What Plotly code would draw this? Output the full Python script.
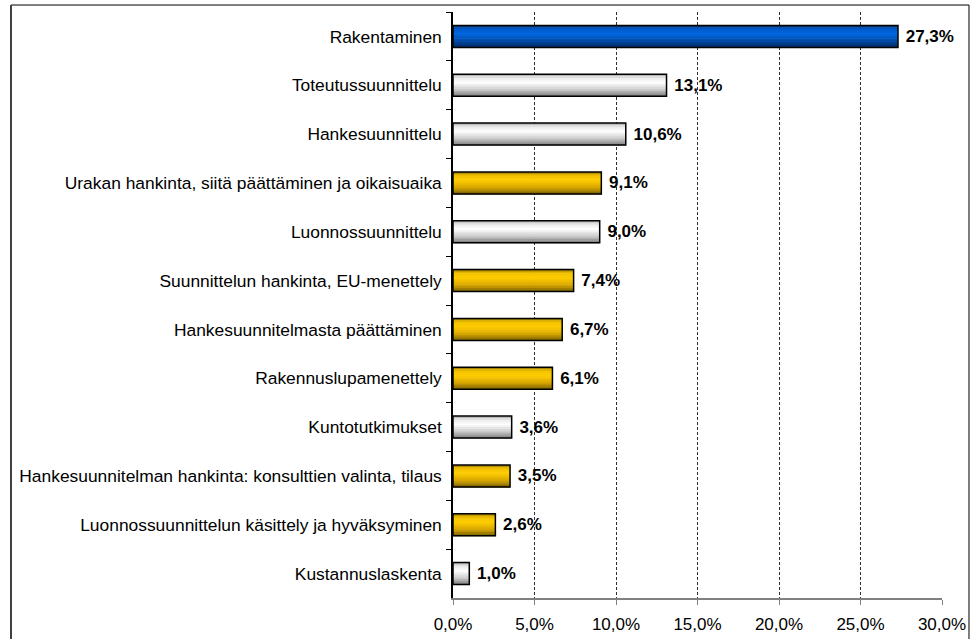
import numpy as np
import plotly.graph_objects as go

categories = [
    "Rakentaminen",
    "Toteutussuunnittelu",
    "Hankesuunnittelu",
    "Urakan hankinta, siitä päättäminen ja oikaisuaika",
    "Luonnossuunnittelu",
    "Suunnittelun hankinta, EU-menettely",
    "Hankesuunnitelmasta päättäminen",
    "Rakennuslupamenettely",
    "Kuntotutkimukset",
    "Hankesuunnitelman hankinta: konsulttien valinta, tilaus",
    "Luonnossuunnittelun käsittely ja hyväksyminen",
    "Kustannuslaskenta",
]
values = [27.3, 13.1, 10.6, 9.1, 9.0, 7.4, 6.7, 6.1, 3.6, 3.5, 2.6, 1.0]
groups = ["blue", "grey", "grey", "gold", "grey", "gold", "gold", "gold", "grey", "gold", "gold", "grey"]
x_ticks = [0, 5, 10, 15, 20, 25, 30]
x_tick_labels = ["0,0%", "5,0%", "10,0%", "15,0%", "20,0%", "25,0%", "30,0%"]

# vertical gradient profiles (top -> bottom)
profiles = {
    "blue": [(0.0, "#002a66"), (0.15, "#0058c8"), (0.38, "#0068e0"), (0.7, "#004aa8"), (1.0, "#002a60")],
    "grey": [(0.0, "#a8a8a8"), (0.15, "#e8e8e8"), (0.38, "#ffffff"), (0.7, "#cccccc"), (1.0, "#7a7a7a")],
    "gold": [(0.0, "#8a6e00"), (0.15, "#f2c200"), (0.4, "#ffcc00"), (0.72, "#d4a400"), (1.0, "#7a6000")],
}


def hex2rgb(h):
    return np.array([int(h[i:i + 2], 16) for i in (1, 3, 5)], dtype=float)


def color_at(group, t):
    stops = profiles[group]
    ts = [s[0] for s in stops]
    cs = np.array([hex2rgb(s[1]) for s in stops])
    rgb = [np.interp(t, ts, cs[:, k]) for k in range(3)]
    return "rgb(%d,%d,%d)" % tuple(int(round(v)) for v in rgb)


FONT = "Liberation Sans, Arial"
BW = 0.45
N = 12
fig = go.Figure()
for i in range(N):
    t = (i + 0.5) / N
    fig.add_trace(go.Bar(
        y=categories, x=values, orientation="h",
        width=BW / N + 0.01, offset=-BW / 2 + i * BW / N,
        marker=dict(color=[color_at(g, t) for g in groups], line=dict(width=0)),
        hoverinfo="skip", showlegend=False,
    ))

fig.add_trace(go.Bar(
    y=categories, x=values, orientation="h",
    width=BW, offset=-BW / 2,
    marker=dict(color="rgba(0,0,0,0)", line=dict(color="black", width=1.5)),
    text=values, texttemplate=" %{x:.1f}%", textposition="outside",
    textfont=dict(family=FONT, size=17, color="black", weight="bold"),
    cliponaxis=False, showlegend=False,
))

# chart frame
frame_l, frame_r, frame_b, frame_t = -0.9039, 1.0552, -0.09, 1.0119
fig.update_layout(shapes=[
    dict(type="line", xref="paper", yref="paper", x0=frame_l, x1=frame_r, y0=frame_t, y1=frame_t,
         line=dict(color="black", width=1)),
    dict(type="line", xref="paper", yref="paper", x0=frame_r, x1=frame_r, y0=frame_b, y1=frame_t,
         line=dict(color="black", width=1)),
    dict(type="line", xref="paper", yref="paper", x0=frame_l, x1=frame_l, y0=frame_b, y1=frame_t,
         line=dict(color="#404040", width=2)),
])

fig.update_layout(
    width=979, height=639,
    margin=dict(l=453, r=37, t=12, b=41, autoexpand=False),
    barmode="overlay",
    separators=",.",
    paper_bgcolor="white", plot_bgcolor="white",
    font=dict(family=FONT, size=17, color="black"),
    xaxis=dict(
        range=[0, 30], tickvals=x_ticks, ticktext=x_tick_labels,
        showgrid=True, gridcolor="#303030", gridwidth=1, griddash="3px,2px",
        showline=True, linecolor="#808080", linewidth=1.5,
        ticks="outside", ticklen=5, tickcolor="#808080",
        zeroline=False, ticklabelstandoff=5,
        tickfont=dict(size=17),
    ),
    yaxis=dict(
        categoryorder="array", categoryarray=categories, autorange="reversed",
        showline=True, linecolor="black", linewidth=1.5,
        ticks="outside", ticklen=5, tickcolor="black", tickson="boundaries",
        showgrid=False, ticklabelstandoff=6,
        tickfont=dict(size=17.4),
    ),
)

fig.write_html("out.html", config={"displayModeBar": False},
               post_script="document.body.style.margin='0';")
